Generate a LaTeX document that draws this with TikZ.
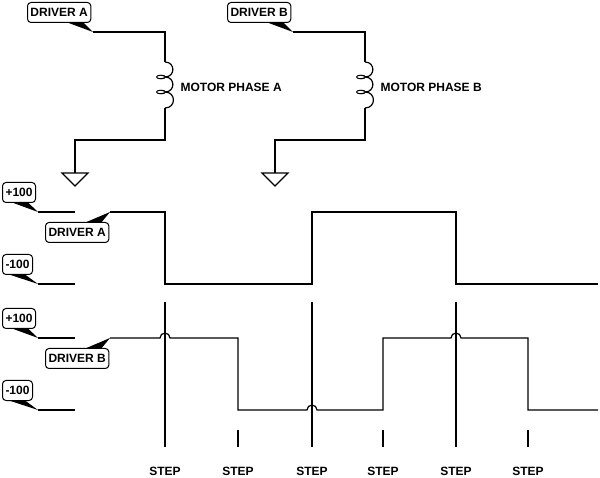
\documentclass[tikz,border=0pt]{standalone}
\usepackage{fontspec}
\setmainfont{Liberation Sans}
\begin{document}
\begin{tikzpicture}[x=1pt,y=1pt,line width=1.2pt,
  lbl/.style={draw,line width=1pt,rounded corners=3.5pt,inner xsep=3pt,inner ysep=0pt,minimum height=20pt,font=\fontsize{12}{13}\selectfont\bfseries},
  txt/.style={font=\fontsize{12}{13}\selectfont\bfseries,inner sep=0pt}]
\useasboundingbox (0,0) rectangle (600,-478);
% callout: name, anchor, pos, text, tip, side(south/north), yshift
\newcommand{\callout}[7]{%
  \node[lbl,anchor=#2] (#1) at #3 {#4};
  \fill ([xshift=-24pt,yshift=#7]#1.#6 east) -- ([xshift=-8pt,yshift=#7]#1.#6 east) -- #5 -- cycle;}
\foreach \n/\dx/\L in {A/0/A,B/200/B}{
  \begin{scope}[xshift=\dx]
  \coordinate (t\n) at (93,-32);
  \callout{d\n}{north west}{(27,-2)}{DRIVER \L}{(t\n)}{south}{0.5pt}
  \coordinate (c\n1) at (165,-62);
  \coordinate (c\n2) at (165,-108);
  \coordinate (g\n) at (75,-173);
  \draw (t\n) -- (165,-32) -- (c\n1);
  \draw (c\n1) to[out=0,in=0,looseness=1.8] (165,-77)
        to[out=0,in=0,looseness=1.8] (165,-92)
        to[out=0,in=0,looseness=1.8] (c\n2);
  \draw[line width=1pt] (161,-77) ellipse (4.5 and 1.8);
  \draw[line width=1pt] (161,-92) ellipse (4.5 and 1.8);
  \draw (c\n2) -- (165,-140) -- (75,-140) -- (g\n);
  \draw (g\n) -- (62,-173) -- (75,-186) -- (88,-173) -- cycle;
  \node[txt,anchor=west] (m\n) at (180,-87) {MOTOR PHASE \L};
  \end{scope}}
\foreach \n/\t/\y in {pa/+100/212,ma/-100/284,pb/+100/338,mb/-100/410}{
  \coordinate (e\n) at (38,-\y);
  \coordinate (f\n) at (75,-\y);
  \callout{l\n}{south west}{(2,-\y+9)}{\t}{(e\n)}{south}{0.5pt}
  \draw (e\n) -- (f\n);
}
\coordinate (wa) at (110,-212);
\callout{wA}{north west}{(45,-222)}{DRIVER A}{(wa)}{north}{-0.5pt}
\draw (wa) -- (165,-212) -- (165,-284) -- (312,-284) -- (312,-212) -- (456,-212) -- (456,-284) -- (598,-284);
\coordinate (wb) at (110,-338);
\callout{wB}{north west}{(45,-348)}{DRIVER B}{(wb)}{north}{-0.5pt}
\draw (wb) -- (160,-338) arc (180:0:5) -- (238,-338) -- (238,-410) -- (307,-410) arc (180:0:5)
  -- (383,-410) -- (383,-338) -- (451,-338) arc (180:0:5) -- (528,-338) -- (528,-410) -- (598,-410);
\foreach \x in {165,312,456}{\draw (\x,-302) -- (\x,-447);}
\foreach \x in {238,383,528}{\draw (\x,-430) -- (\x,-447);}
\foreach \x/\i in {165/1,238/2,312/3,383/4,456/5,528/6}{\node[txt] (s\i) at (\x,-471) {STEP};}
\end{tikzpicture}
\end{document}
